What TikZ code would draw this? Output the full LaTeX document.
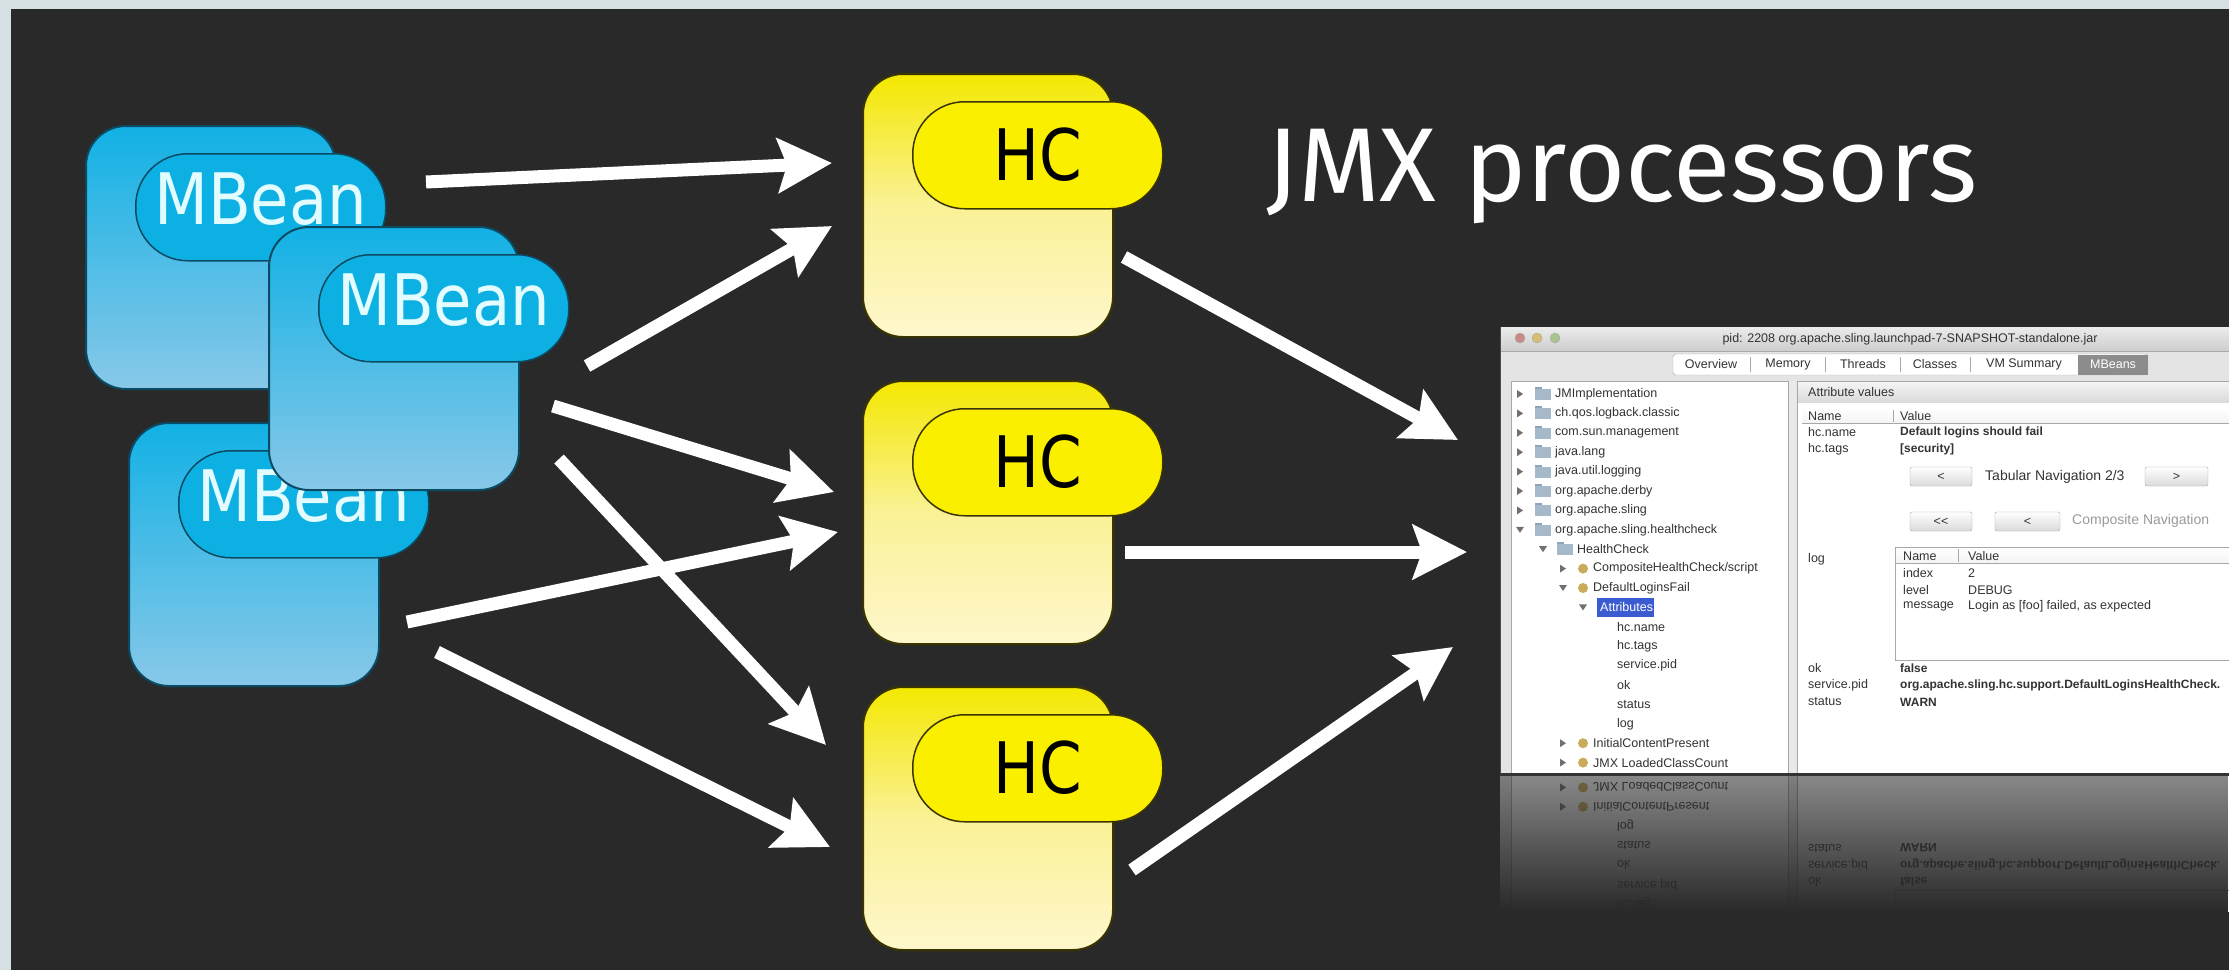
\documentclass[tikz,border=0pt]{standalone}
\usepackage{fontspec}
\setmainfont{Fira Sans}
\newfontfamily\uifont{Liberation Sans}
\newfontfamily\boxfont{DejaVu Sans}
\usetikzlibrary{arrows.meta,fadings}

\definecolor{bgdark}{HTML}{292929}
\definecolor{edgelight}{HTML}{D5E0E3}
\definecolor{mbtop}{HTML}{12B1E5}
\definecolor{mbbot}{HTML}{88C8E8}
\definecolor{mbpill}{HTML}{0DB0E2}
\definecolor{mbline}{HTML}{0B4A63}
\definecolor{mbtext}{HTML}{E2FCFF}
\definecolor{hctop}{HTML}{F4E800}
\definecolor{hcmid}{HTML}{FAF196}
\definecolor{hcbot}{HTML}{FEF7CC}
\definecolor{hcpill}{HTML}{FBEF00}
\definecolor{hcline}{HTML}{3A3500}
\definecolor{winbody}{HTML}{E4E4E4}
\definecolor{wintitleA}{HTML}{EBEBEB}
\definecolor{wintitleB}{HTML}{CDCDCD}
\definecolor{uitext}{HTML}{333333}
\definecolor{uigrey}{HTML}{9A9A9A}
\definecolor{panelline}{HTML}{A8A8A8}
\definecolor{tricol}{HTML}{707070}
\definecolor{foldcol}{HTML}{A6B9CB}
\definecolor{foldtop}{HTML}{8EA4BA}
\definecolor{beancol}{HTML}{C9AB5A}
\definecolor{selblue}{HTML}{3B5BD0}
\definecolor{tabsel}{HTML}{8C8C8C}
\definecolor{bandA}{HTML}{F4F4F4}
\definecolor{bandB}{HTML}{DADADA}
\definecolor{lightR}{HTML}{C98A86}
\definecolor{lightY}{HTML}{D8BC70}
\definecolor{lightG}{HTML}{A9C48E}

\tikzfading[name=reflfade, top color=transparent!45, bottom color=transparent!0]

\newcommand\trir[2]{\fill[tricol] (#1-3,#2-4) -- (#1+3,#2) -- (#1-3,#2+4) -- cycle;}
\newcommand\trid[2]{\fill[tricol] (#1-4,#2-3) -- (#1+4,#2-3) -- (#1,#2+3) -- cycle;}
\newcommand\folder[2]{\fill[foldcol] (#1,#2-5) rectangle (#1+16,#2+6); \fill[foldtop] (#1,#2-7) rectangle (#1+7,#2-5);}
\newcommand\bean[2]{\fill[beancol] (#1,#2) circle[radius=5pt];}
\newcommand\uibtn[6]{\draw[draw=panelline, top color=white, bottom color=bandB, rounded corners=2pt] (#1,#2) rectangle (#3,#4); \node[ui, anchor=center] (#6) at ({(#1+#3)/2},{(#2+#4)/2}) {#5};}

\newcommand\jconsole{%
  \fill[winbody] (1500,327) rectangle (2240,800);
  \shade[top color=wintitleA, bottom color=wintitleB] (1500,327) rectangle (2240,351);
  \draw[panelline] (1500,351.5) -- (2240,351.5);
  \draw[panelline, fill=lightR] (1520,338) circle[radius=5pt];
  \draw[panelline, fill=lightY] (1537,338) circle[radius=5pt];
  \draw[panelline, fill=lightG] (1555,338) circle[radius=5pt];
  \node[ui, anchor=center, text=uitext] (wtitle) at (1910,339) {pid: 2208 org.apache.sling.launchpad-7-SNAPSHOT-standalone.jar};
  % tabs
  \draw[fill=white, draw=panelline, rounded corners=3pt] (1673,354) rectangle (2148,375);
  \fill[tabsel] (2078,354.5) rectangle (2147.5,374.5);
  \foreach \sx in {1750,1825,1900,1970} {\draw[panelline] (\sx,357) -- (\sx,372);}
  \node[ui, anchor=center] (tab1) at (1711,364.5) {Overview};
  \node[ui, anchor=center] (tab2) at (1788,364.5) {Memory};
  \node[ui, anchor=center] (tab3) at (1863,364.5) {Threads};
  \node[ui, anchor=center] (tab4) at (1935,364.5) {Classes};
  \node[ui, anchor=center] (tab5) at (2024,364.5) {VM Summary};
  \node[ui, anchor=center, text=white] (tab6) at (2113,364.5) {MBeans};
  % panels
  \draw[fill=white, draw=panelline] (1511,381) rectangle (1788,800);
  \fill[bandB!60!white] (1789,381) rectangle (1796,800);
  \draw[fill=white, draw=panelline] (1797,381) rectangle (2240,800);
  % tree
  \foreach \i/\tx in {0/JMImplementation,1/ch.qos.logback.classic,2/com.sun.management,3/java.lang,4/java.util.logging,5/org.apache.derby,6/org.apache.sling} {
    \pgfmathsetmacro\yy{394+19.4*\i}
    \trir{1520}{\yy} \folder{1535}{\yy}
    \node[ui] (t\i) at (1555,\yy) {\tx};
  }
  \trid{1520}{529.8} \folder{1535}{529.8}
  \node[ui] (t7) at (1555,529.8) {org.apache.sling.healthcheck};
  \trid{1543}{549.2} \folder{1557}{549.2}
  \node[ui] (t8) at (1577,549.2) {HealthCheck};
  \trir{1563}{568.6} \bean{1583}{568.6}
  \node[ui] (t9) at (1593,568.6) {CompositeHealthCheck/script};
  \trid{1563}{588} \bean{1583}{588}
  \node[ui] (t10) at (1593,588) {DefaultLoginsFail};
  \trid{1583}{607.4}
  \fill[selblue] (1597,598) rectangle (1654,617);
  \node[ui, text=white] (t11) at (1600,607.4) {Attributes};
  \foreach \i/\tx in {12/hc.name,13/hc.tags,14/service.pid,15/ok,16/status,17/log} {
    \pgfmathsetmacro\yy{394+19.4*\i}
    \node[ui] (t\i) at (1617,\yy) {\tx};
  }
  \trir{1563}{743.2} \bean{1583}{743.2}
  \node[ui] (t18) at (1593,743.2) {InitialContentPresent};
  \trir{1563}{762.6} \bean{1583}{762.6}
  \node[ui] (t19) at (1593,762.6) {JMX LoadedClassCount};
  % right panel
  \shade[top color=bandA, bottom color=bandB] (1798,382) rectangle (2240,402);
  \node[ui] (av) at (1808,392) {Attribute values};
  \shade[top color=white, bottom color=bandA] (1802,408) rectangle (2240,423);
  \draw[panelline] (1802,423) -- (2240,423);
  \draw[panelline] (1893,410) -- (1893,422);
  \node[ui] (hn) at (1808,416) {Name};
  \node[ui] (hv) at (1900,416) {Value};
  \node[ui] (n1) at (1808,432) {hc.name};
  \node[uib] (v1) at (1900,432) {Default logins should fail};
  \node[ui] (n2) at (1808,449) {hc.tags};
  \node[uib] (v2) at (1900,449) {[security]};
  \uibtn{1910}{467}{1972}{486}{<}{b1}
  \node[ui, font=\uifont\fontsize{14}{16}\selectfont] (tn) at (1985,477) {Tabular Navigation 2/3};
  \uibtn{2145}{467}{2208}{486}{>}{b2}
  \begin{scope}[every node/.append style={text=uigrey}]
    \uibtn{1910}{512}{1972}{531}{<<}{b3}
    \uibtn{1995}{512}{2060}{531}{<}{b4}
    \node[ui, text=uigrey, font=\uifont\fontsize{14}{16}\selectfont] (cn) at (2072,521) {Composite Navigation};
  \end{scope}
  \node[ui] (lg) at (1808,559) {log};
  \draw[fill=white, draw=panelline] (1895,547) rectangle (2240,660);
  \shade[top color=white, bottom color=bandA] (1896,548) rectangle (2240,563);
  \draw[panelline] (1896,563) -- (2240,563);
  \draw[panelline] (1958,549) -- (1958,562);
  \node[ui] (in) at (1903,556) {Name};
  \node[ui] (iv) at (1968,556) {Value};
  \node[ui] (r1) at (1903,573) {index};
  \node[ui] (r1v) at (1968,573) {2};
  \node[ui] (r2) at (1903,590) {level};
  \node[ui] (r2v) at (1968,590) {DEBUG};
  \node[ui] (r3) at (1903,606) {message};
  \node[ui] (r3v) at (1968,606) {Login as [foo] failed, as expected};
  \node[ui] (ok) at (1808,668) {ok};
  \node[uib] (okv) at (1900,668) {false};
  \node[ui] (sp) at (1808,685) {service.pid};
  \node[uib] (spv) at (1900,685) {org.apache.sling.hc.support.DefaultLoginsHealthCheck.};
  \node[ui] (st) at (1808,702) {status};
  \node[uib] (stv) at (1900,702) {WARN};
}

% lower part of the window, drawn mirrored as its reflection
\newcommand\jreflect{%
  \fill[winbody] (1500,630) rectangle (2240,800);
  \draw[fill=white, draw=panelline] (1511,600) rectangle (1788,800);
  \fill[bandB!60!white] (1789,630) rectangle (1796,800);
  \draw[fill=white, draw=panelline] (1797,600) rectangle (2240,800);
  \draw[panelline] (1895,630) -- (1895,660) -- (2240,660);
  \foreach \i/\tx in {13/hc.tags,14/service.pid,15/ok,16/status,17/log} {
    \pgfmathsetmacro\yy{394+19.4*\i}
    \node[ui] (rt\i) at (1617,\yy) {\tx};
  }
  \trir{1563}{743.2} \bean{1583}{743.2}
  \node[ui] (rt18) at (1593,743.2) {InitialContentPresent};
  \trir{1563}{762.6} \bean{1583}{762.6}
  \node[ui] (rt19) at (1593,762.6) {JMX LoadedClassCount};
  \node[ui] (rok) at (1808,668) {ok};
  \node[uib] (rokv) at (1900,668) {false};
  \node[ui] (rsp) at (1808,685) {service.pid};
  \node[uib] (rspv) at (1900,685) {org.apache.sling.hc.support.DefaultLoginsHealthCheck.};
  \node[ui] (rst) at (1808,702) {status};
  \node[uib] (rstv) at (1900,702) {WARN};
}

\begin{document}
\begin{tikzpicture}[x=1pt,y=-1pt,
  ui/.style={font=\uifont\fontsize{12.5}{14}\selectfont, text=uitext, inner sep=0pt, anchor=west},
  uib/.style={ui, font=\uifont\bfseries\fontsize{12}{14}\selectfont},
  mbback/.style={draw=mbline, line width=2pt, rounded corners=40pt, top color=mbtop, bottom color=mbbot, minimum width=250pt, minimum height=263pt, anchor=north west, inner sep=0pt},
  mbpillst/.style={draw=mbline, line width=1.5pt, rounded corners=52pt, fill=mbpill, minimum width=250pt, minimum height=107pt, anchor=north west, inner sep=0pt},
  hcback/.style={draw=hcline, line width=2pt, rounded corners=40pt, top color=hctop, bottom color=hcbot, middle color=hcmid, minimum width=250pt, minimum height=263pt, anchor=north west, inner sep=0pt},
  hcpillst/.style={draw=hcline, line width=1.5pt, rounded corners=52pt, fill=hcpill, minimum width=250pt, minimum height=107pt, anchor=north west, inner sep=0pt},
  boxlabel/.style={font=\boxfont\fontsize{71}{85}\selectfont, anchor=base, inner sep=0pt},
  arr/.style={draw=white, line width=13pt, -{Stealth[length=54pt, width=54pt, inset=9pt]}}
]
\useasboundingbox (0,0) rectangle (2229,970);
\fill[bgdark] (0,0) rectangle (2229,970);
\fill[edgelight] (0,0) rectangle (2229,9);
\fill[edgelight] (0,0) rectangle (11,970);

% title
\node[font=\fontsize{105}{120}\selectfont, text=white, anchor=base west, inner sep=0pt] (title) at (1266,201) {JMX processors};

% MBeans
\node[mbback] (mb1) at (85,125) {};
\node[mbpillst] (mp1) at (135,153) {};
\node[boxlabel, text=mbtext] (ml1) at ([shift={(0,71)}]mp1.north) {\scalebox{0.88}[1]{MBean}};
\node[mbback] (mb3) at (128,422) {};
\node[mbpillst] (mp3) at (178,450) {};
\node[boxlabel, text=mbtext] (ml3) at ([shift={(0,71)}]mp3.north) {\scalebox{0.88}[1]{MBean}};
\node[mbback] (mb2) at (268,226) {};
\node[mbpillst] (mp2) at (318,254) {};
\node[boxlabel, text=mbtext] (ml2) at ([shift={(0,71)}]mp2.north) {\scalebox{0.88}[1]{MBean}};

% HCs
\node[hcback] (hb1) at (862,73) {};
\node[hcpillst] (hp1) at (912,101) {};
\node[boxlabel, text=black] (hl1) at ([shift={(0,79)}]hp1.north) {\scalebox{0.86}[1]{HC}};
\node[hcback] (hb2) at (862,380) {};
\node[hcpillst] (hp2) at (912,408) {};
\node[boxlabel, text=black] (hl2) at ([shift={(0,79)}]hp2.north) {\scalebox{0.86}[1]{HC}};
\node[hcback] (hb3) at (862,686) {};
\node[hcpillst] (hp3) at (912,714) {};
\node[boxlabel, text=black] (hl3) at ([shift={(0,79)}]hp3.north) {\scalebox{0.86}[1]{HC}};

% screenshot
\node[anchor=north west, minimum width=729pt, minimum height=447pt, inner sep=0pt, outer sep=0pt] (scr) at (1500,327) {};
\begin{scope}
  \clip (1500,327) rectangle (2229,774);
  \jconsole
\end{scope}
\begin{scope}[shift={(0,1550)}, yscale=-1, every node/.append style={transform shape}]
  \clip (1500,636) rectangle (2229,775);
  \jreflect
\end{scope}
\fill[bgdark, path fading=reflfade] (1500,775) rectangle (2229,912);
\fill[bgdark] (1500,912) rectangle (2229,970);
\draw[line width=3pt, color=black!80] (1500,774.5) -- (2229,774.5);
\draw[line width=1pt, color=black!70] (1500,327) -- (1500,774);

% arrows
\draw[arr] ([shift={(89,57)}]mb1.north east) -- ([shift={(-30,90)}]hb1.north west);
\draw[arr] ([shift={(67,140)}]mb2.north east) -- ([shift={(-30,153)}]hb1.north west);
\draw[arr] ([shift={(33,180)}]mb2.north east) -- ([shift={(-28,112)}]hb2.north west);
\draw[arr] ([shift={(39,233)}]mb2.north east) -- ([shift={(-36,59)}]hb3.north west);
\draw[arr] ([shift={(27,200)}]mb3.north east) -- ([shift={(-24,152)}]hb2.north west);
\draw[arr] ([shift={(57,230)}]mb3.north east) -- ([shift={(-32,161)}]hb3.north west);
\draw[arr] ([shift={(10,184)}]hb1.north east) -- ([shift={(-42,113)}]scr.north west);
\draw[arr] ([shift={(11,172)}]hb2.north east) -- ([shift={(-33,225)}]scr.north west);
\draw[arr] ([shift={(18,184)}]hb3.north east) -- ([shift={(-47,320)}]scr.north west);
\end{tikzpicture}
\end{document}
